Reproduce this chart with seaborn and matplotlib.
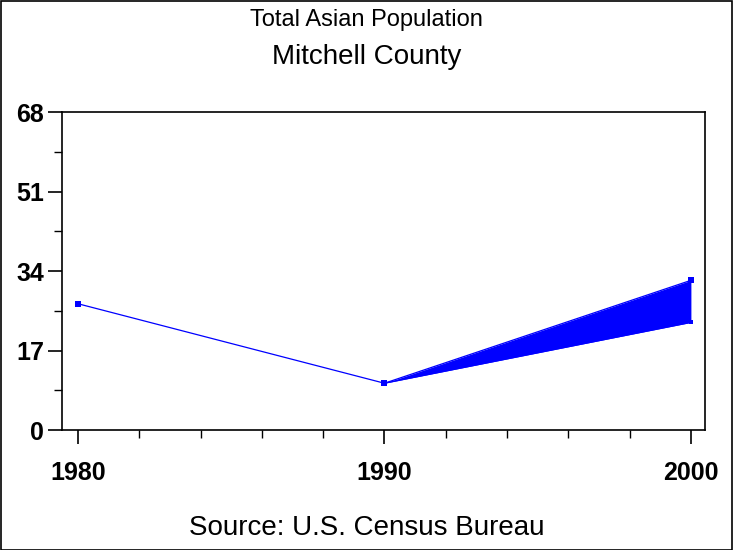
import matplotlib
matplotlib.use("Agg")
import matplotlib.pyplot as plt
import seaborn as sns
import pandas as pd
from matplotlib.ticker import MultipleLocator

years = [1980, 1990, 2000]
population = [27, 10, 32]
band_years = [1990, 2000]
band_low = [10, 23]
band_high = [10, 32]

sns.set_style("ticks")
plt.rcParams["font.family"] = ["Liberation Sans", "DejaVu Sans"]
plt.rcParams["text.color"] = "black"
plt.rcParams["xtick.color"] = "black"
plt.rcParams["ytick.color"] = "black"

df = pd.DataFrame({"Year": years, "Population": population})

fig = plt.figure(figsize=(7.33, 5.5), dpi=100)
ax = fig.add_axes([62 / 733, 1 - 430 / 550, (705 - 62) / 733, (430 - 112) / 550])

sns.lineplot(x="Year", y="Population", data=df.iloc[:2], color="blue",
             linewidth=0.9, marker="s", markersize=4, markeredgewidth=0, ax=ax)
ax.fill_between(band_years, band_low, band_high, color="blue", linewidth=0)
ax.plot(band_years, band_high, color="blue", linewidth=0.9, marker="s",
        markersize=4, markeredgewidth=0)
ax.plot(band_years, band_low, color="blue", linewidth=0.9, marker="s",
        markersize=3, markeredgewidth=0)

ax.set_xlim(1979.48, 2000.46)
ax.set_ylim(0, 68)
ax.set_xticks(years)
ax.set_yticks([0, 17, 34, 51, 68])
ax.xaxis.set_minor_locator(MultipleLocator(2))
ax.yaxis.set_minor_locator(MultipleLocator(8.5))
ax.tick_params(axis="both", which="major", length=10, width=1.2,
               labelsize=18, labelcolor="black")
ax.tick_params(axis="y", which="major", pad=3)
ax.tick_params(axis="x", which="major", pad=12)
ax.tick_params(axis="both", which="minor", length=6, width=1.0)
for lbl in ax.get_xticklabels() + ax.get_yticklabels():
    lbl.set_fontweight("bold")
ax.set_xlabel("")
ax.set_ylabel("")
for s in ax.spines.values():
    s.set_visible(True)
    s.set_color("black")
    s.set_linewidth(1.2)

fig.text(0.5, 1 - 20 / 550, "Total Asian Population", ha="center", va="center", fontsize=17)
fig.text(0.5, 1 - 57 / 550, "Mitchell County", ha="center", va="center", fontsize=20)
fig.text(0.5, 1 - 528 / 550, "Source: U.S. Census Bureau", ha="center", va="center",
         fontsize=20)

border = plt.Rectangle((0.5 / 733, 0.5 / 550), 1 - 1.5 / 733, 1 - 1.5 / 550,
                       transform=fig.transFigure, fill=False, edgecolor="black",
                       linewidth=1.2)
fig.patches.append(border)

fig.savefig("out.png", dpi=100, facecolor="white")
